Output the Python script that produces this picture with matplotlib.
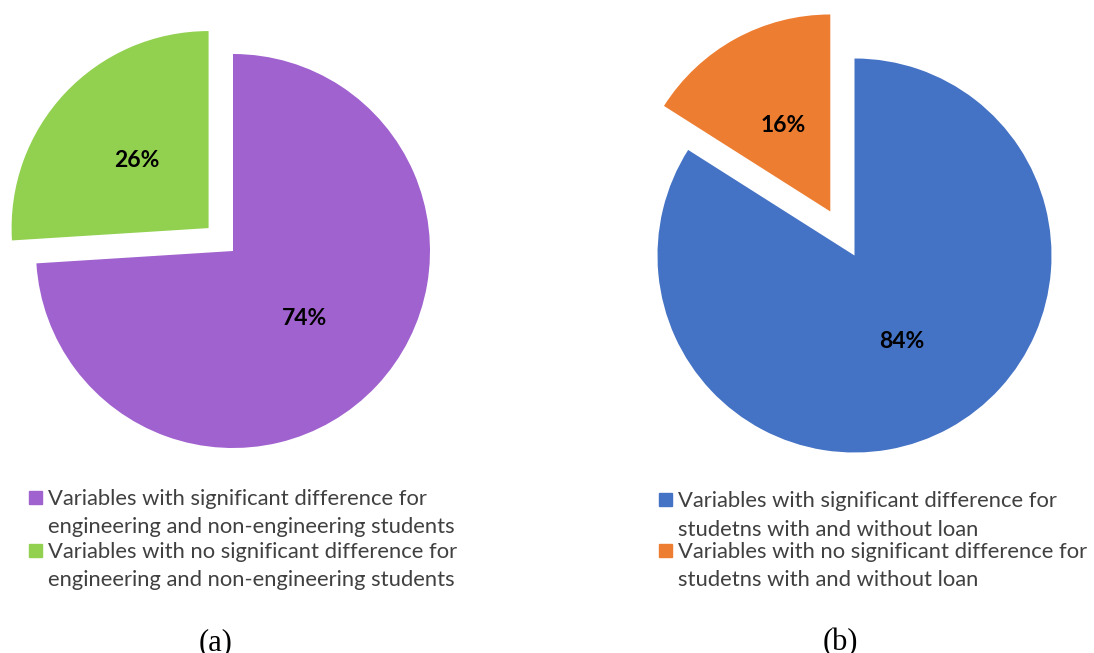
import matplotlib
matplotlib.use("Agg")
from matplotlib import pyplot as plt
from matplotlib.patches import Rectangle

# datos de las dos graficas
valores_a = [74, 26]
etiquetas_a = ["Variables with significant difference for\nengineering and non-engineering students",
               "Variables with no significant difference for\nengineering and non-engineering students"]
colores_a = ["#A062CF", "#92D050"]

valores_b = [84, 16]
etiquetas_b = ["Variables with significant difference for\nstudetns with and without loan",
               "Variables with no significant difference for\nstudetns with and without loan"]
colores_b = ["#4472C4", "#ED7D31"]

subtitulos = ["(a)", "(b)"]

W, H = 1094, 653
fig = plt.figure(figsize=(W / 100, H / 100), dpi=100)
R = 197.0  # radio en pixeles


def pastel(cx, cy, x0, x1, y0, y1, valores, colores, explode):
    # ejes colocados en pixeles, 1 unidad = R pixeles
    ax = fig.add_axes([x0 / W, (H - y1) / H, (x1 - x0) / W, (y1 - y0) / H])
    ax.pie(valores, colors=colores, startangle=90, counterclock=False,
           explode=[0, explode], autopct="%d%%", pctdistance=0.5,
           textprops=dict(fontsize=16.5, fontweight="bold", color="black", family="Lato"),
           wedgeprops=dict(linewidth=0))
    ax.set_aspect("auto")
    ax.set_xlim((x0 - cx) / R, (x1 - cx) / R)
    ax.set_ylim((cy - y1) / R, (cy - y0) / R)
    ax.axis("off")
    return ax


pastel(233, 251, 0, 480, 0, 470, valores_a, colores_a, 0.17)
pastel(854.5, 255.5, 620, 1094, 0, 470, valores_b, colores_b, 0.255)


def leyenda(x, baselines, etiquetas, colores):
    # un cuadrito y dos renglones por cada entrada
    for i in range(len(etiquetas)):
        b1, b2 = baselines[i]
        fig.patches.append(Rectangle((x / W, (H - b1 + 1) / H), 13 / W, 13 / H,
                                     transform=fig.transFigure, color=colores[i], figure=fig))
        renglones = etiquetas[i].split("\n")
        for r, b in zip(renglones, (b1, b2)):
            fig.text((x + 19) / W, (H - b) / H, r, fontsize=15.8, family="Lato",
                     color="#404040", va="baseline")


leyenda(29, [(505, 533), (558, 586)], etiquetas_a, colores_a)
leyenda(659, [(507, 536), (558, 586)], etiquetas_b, colores_b)

fig.text(215.5 / W, (H - 628) / H, subtitulos[0], fontsize=22, family="Liberation Serif",
         ha="center", va="top")
fig.text(840 / W, (H - 628) / H, subtitulos[1], fontsize=22, family="Liberation Serif",
         ha="center", va="top")

plt.savefig("out.png", dpi=100)
